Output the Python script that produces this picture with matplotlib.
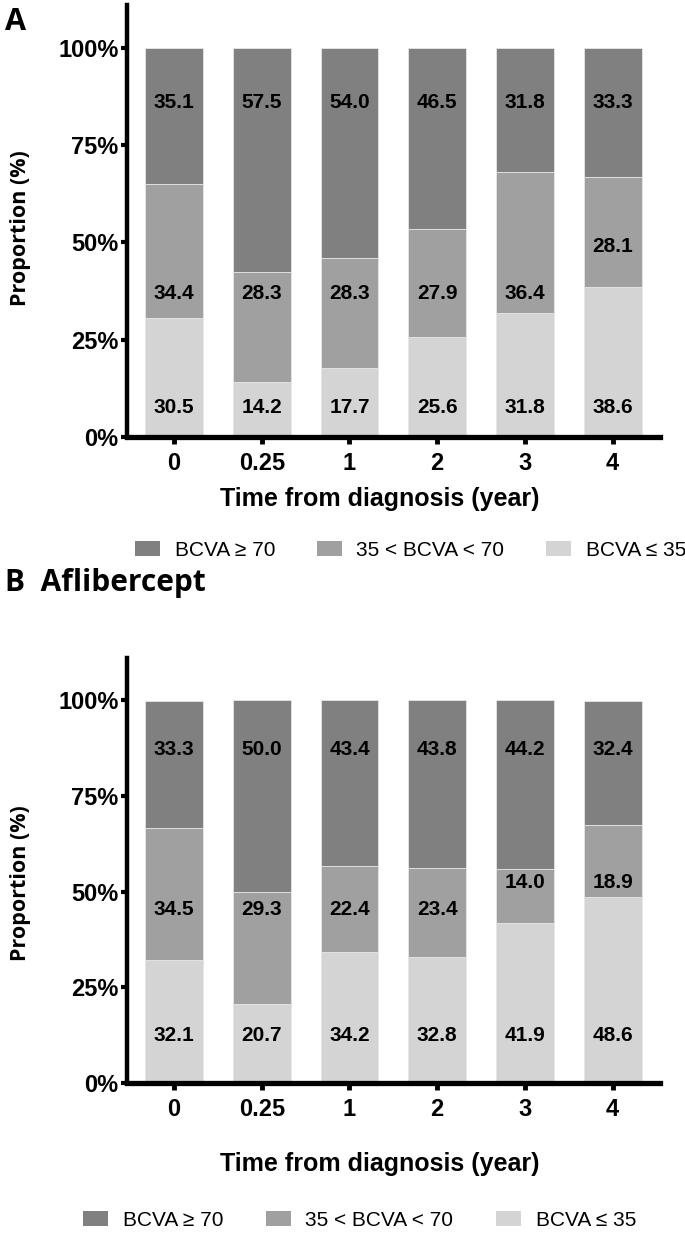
import numpy as np
import matplotlib.pyplot as plt
from matplotlib.patches import Patch

# ---------- Dados ----------
anos = ["0", "0.25", "1", "2", "3", "4"]
legenda = ["BCVA \u2265 70", "35 < BCVA < 70", "BCVA \u2264 35"]

# painel A
a_baixo = [30.5, 14.2, 17.7, 25.6, 31.8, 38.6]
a_meio = [34.4, 28.3, 28.3, 27.9, 36.4, 28.1]
a_alto = [35.1, 57.5, 54.0, 46.5, 31.8, 33.3]

# painel B (Aflibercept)
b_baixo = [32.1, 20.7, 34.2, 32.8, 41.9, 48.6]
b_meio = [34.5, 29.3, 22.4, 23.4, 14.0, 18.9]
b_alto = [33.3, 50.0, 43.4, 43.8, 44.2, 32.4]

cores = ["#808080", "#a0a0a0", "#d4d4d4"]
fonte_num = ["Liberation Sans", "DejaVu Sans"]
fonte_tit = ["Open Sans", "DejaVu Sans"]

W, H = 685, 1235
fig = plt.figure(figsize=(W / 100, H / 100), dpi=100)


def painel(rect, baixo, meio, alto, pos_txt, xlab_y, ylab_y):
    ax = fig.add_axes(rect)
    x = np.arange(len(anos))
    ax.bar(x, baixo, width=0.66, color=cores[2], edgecolor="#e6e6e6", linewidth=0.6)
    ax.bar(x, meio, width=0.66, bottom=baixo, color=cores[1], edgecolor="#e6e6e6", linewidth=0.6)
    ax.bar(x, alto, width=0.66, bottom=np.add(baixo, meio), color=cores[0], edgecolor="#e6e6e6", linewidth=0.6)

    # posição dos rótulos (linha fixa; se cair fora do bloco do meio, sobe)
    y_alto, y_meio, y_meio2, y_baixo = pos_txt
    for i in range(len(x)):
        ax.text(x[i], y_baixo, f"{baixo[i]:.1f}", ha="center", va="center",
                fontsize=15, fontweight="bold", family=fonte_num)
        lo, hi = baixo[i], baixo[i] + meio[i]
        ym = y_meio if lo + 4 < y_meio < hi - 4 else y_meio2
        ax.text(x[i], ym, f"{meio[i]:.1f}", ha="center", va="center",
                fontsize=15, fontweight="bold", family=fonte_num)
        ax.text(x[i], y_alto, f"{alto[i]:.1f}", ha="center", va="center",
                fontsize=15, fontweight="bold", family=fonte_num)

    ax.set_xlim(-0.536, 5.54)
    ax.set_ylim(0, 111)
    ax.set_yticks([0, 25, 50, 75, 100])
    ax.set_yticklabels(["0%", "25%", "50%", "75%", "100%"])
    ax.set_xticks(x)
    ax.set_xticklabels(anos)
    for lab in ax.get_xticklabels() + ax.get_yticklabels():
        lab.set_family(fonte_num)
        lab.set_fontweight("bold")
        lab.set_fontsize(17)
    ax.spines["top"].set_visible(False)
    ax.spines["right"].set_visible(False)
    ax.spines["left"].set_linewidth(3.2)
    ax.spines["bottom"].set_linewidth(3.8)
    ax.tick_params(axis="x", length=5, width=3.5, pad=6)
    ax.tick_params(axis="y", length=4, width=3, pad=2)

    ax.set_ylabel("Proportion (%)", fontsize=15.5, fontweight="bold", family=fonte_tit)
    ax.yaxis.set_label_coords(-0.18, ylab_y)
    ax.set_xlabel("Time from diagnosis (year)", fontsize=18, fontweight="bold", family=fonte_num)
    ax.xaxis.set_label_coords(0.475, xlab_y)
    return ax


def px_rect(esq, dir, cima, baixo):
    return [esq / W, 1 - baixo / H, (dir - esq) / W, (baixo - cima) / H]


painel(px_rect(127, 660, 5, 437), a_baixo, a_meio, a_alto, (86, 37, 49, 7.7), -0.115, 0.483)
painel(px_rect(127, 660, 658, 1083), b_baixo, b_meio, b_alto, (87, 45.3, 52.3, 12.5), -0.162, 0.47)

fig.text(5 / W, 1 - 22 / H, "A", fontsize=22, fontweight="bold", family=fonte_tit, va="center")
fig.text(5 / W, 1 - 583 / H, "B  Aflibercept", fontsize=21.5, fontweight="bold", family=fonte_tit, va="center")

# ---------- Legendas ----------
handles = [Patch(facecolor=c) for c in cores]
for x0, y0, sep in [(135, 550, 2.0), (83, 1220, 2.05)]:
    fig.legend(handles, legenda, loc="center left", bbox_to_anchor=(x0 / W, 1 - y0 / H),
               ncol=3, frameon=False, borderpad=0, borderaxespad=0,
               handlelength=1.2, handleheight=0.7, handletextpad=0.7, columnspacing=sep,
               prop={"family": fonte_num, "size": 15})

fig.savefig("out.png", dpi=100)
